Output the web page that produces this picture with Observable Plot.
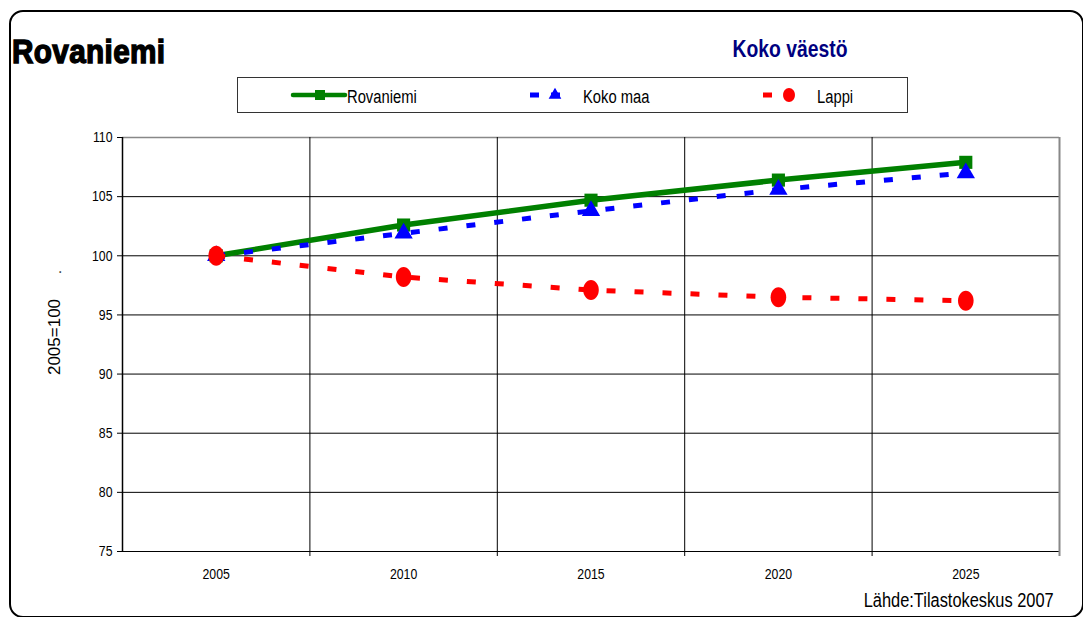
<!DOCTYPE html>
<html>
<head>
<meta charset="utf-8">
<script src="https://cdn.jsdelivr.net/npm/d3@7"></script>
<script src="https://cdn.jsdelivr.net/npm/@observablehq/plot@0.6"></script>
<style>
  html, body { margin: 0; padding: 0; background: #fff; }
  #wrap { position: relative; width: 1083px; height: 617px; overflow: hidden; font-family: "Liberation Sans", Arial, sans-serif; }
  #frame { position: absolute; left: 9px; top: 10px; width: 1071px; height: 604px; border: 2px solid #000; border-radius: 14px; }
  .t { position: absolute; white-space: nowrap; color: #000; }
  #title { left: 12px; top: 35px; font-size: 33px; line-height: 33px; font-weight: bold; -webkit-text-stroke: 1.4px #000; letter-spacing: 0.4px; transform: scaleX(0.9); transform-origin: left center; }
  #subtitle { left: 640px; width: 300px; text-align: center; top: 38px; font-size: 23px; line-height: 23px; font-weight: bold; color: #000080; transform: scaleX(0.84); transform-origin: center center; }
  #legend { position: absolute; left: 237px; top: 77px; width: 669px; height: 34px; border: 1px solid #333; }
  .lt { position: absolute; top: 10px; font-size: 18px; line-height: 18px; transform: scaleX(0.82); transform-origin: left center; white-space: nowrap; }
  #ylabel { left: -5px; top: 327px; width: 120px; height: 20px; line-height: 20px; text-align: center; font-size: 17px; transform: rotate(-90deg); }
  #dot { left: 46px; top: 262px; width: 20px; height: 20px; line-height: 20px; text-align: center; font-size: 14px; transform: rotate(-90deg); }
  #caption { right: 29px; top: 590px; font-size: 20px; line-height: 20px; transform: scaleX(0.82); transform-origin: right center; }
  #plot { position: absolute; left: 0; top: 0; }
</style>
</head>
<body>
<div id="wrap">
  <div id="frame"></div>
  <div id="plot"></div>
  <div class="t" id="title">Rovaniemi</div>
  <div class="t" id="subtitle">Koko väestö</div>
  <div id="legend"></div>
  <div class="t" id="ylabel">2005=100</div>
  <div class="t" id="dot">.</div>
  <div class="t" id="caption">Lähde:Tilastokeskus 2007</div>
</div>
<script>
// ---- data ----
const years = [2005, 2010, 2015, 2020, 2025];
const seriesNames = ["Rovaniemi", "Koko maa", "Lappi"];
const rovaniemi = [100, 102.6, 104.7, 106.4, 107.9];
const kokoMaa = [100, 101.9, 103.8, 105.6, 107.0];
const lappi = [100, 98.2, 97.1, 96.5, 96.2];
const yTicks = [75, 80, 85, 90, 95, 100, 105, 110];

// ---- styles ----
const colors = {"Rovaniemi": "#008000", "Koko maa": "#0000ff", "Lappi": "#ff0000"};
const dashes = {"Rovaniemi": null, "Koko maa": "9,19", "Lappi": "9,19"};

// custom ellipse symbol (taller than wide, like the reference markers)
function ellipseSymbol(ratio) {
  return {
    draw(context, size) {
      const r = Math.sqrt(size / Math.PI);
      const rx = r * ratio, ry = r;
      const k = 0.5523;
      context.moveTo(rx, 0);
      context.bezierCurveTo(rx, ry * k, rx * k, ry, 0, ry);
      context.bezierCurveTo(-rx * k, ry, -rx, ry * k, -rx, 0);
      context.bezierCurveTo(-rx, -ry * k, -rx * k, -ry, 0, -ry);
      context.bezierCurveTo(rx * k, -ry, rx, -ry * k, rx, 0);
      context.closePath();
    }
  };
}
const ellipse = ellipseSymbol(0.78);

const seriesValues = {"Rovaniemi": rovaniemi, "Koko maa": kokoMaa, "Lappi": lappi};
const rows = seriesNames.flatMap(s => years.map((y, i) => ({series: s, year: y, value: seriesValues[s][i]})));
const bySeries = s => rows.filter(d => d.series === s);

const step = years[1] - years[0];
const bounds = [...years.map(y => y - step / 2), years[years.length - 1] + step / 2];

const plot = Plot.plot({
  width: 1083,
  height: 617,
  marginLeft: 122,
  marginRight: 24,
  marginTop: 137,
  marginBottom: 66,
  style: {background: "transparent", fontFamily: "'Liberation Sans',Arial,sans-serif", fontSize: "15px", color: "#000"},
  x: {domain: [bounds[0], bounds[bounds.length - 1]]},
  y: {domain: [75, 110]},
  marks: [
    Plot.ruleY(yTicks.filter(v => v !== 110), {stroke: "#000", strokeWidth: 1}),
    Plot.ruleY([110], {stroke: "#888", strokeWidth: 1.5}),
    Plot.ruleX(bounds.slice(1, -1), {stroke: "#000", strokeWidth: 1, insetBottom: -5}),
    Plot.ruleX([bounds[0]], {stroke: "#000", strokeWidth: 1.5}),
    Plot.ruleX([bounds[bounds.length - 1]], {stroke: "#888", strokeWidth: 2, insetBottom: -5}),
    Plot.axisY({ticks: yTicks, tickSize: 5, tickPadding: 5, label: null, stroke: "#000"}),
    Plot.axisX({ticks: years, tickSize: 0, tickPadding: 17, tickFormat: d => String(d), label: null}),
    ...seriesNames.map(s => Plot.line(bySeries(s), {
      x: "year", y: "value", stroke: colors[s],
      strokeWidth: s === "Rovaniemi" ? 5.5 : 5,
      strokeDasharray: dashes[s], strokeLinecap: "butt", strokeLinejoin: "miter"
    })),
    Plot.dot(bySeries("Rovaniemi"), {x: "year", y: "value", symbol: "square", r: 7.4, fill: colors["Rovaniemi"], stroke: "none"}),
    Plot.dot(bySeries("Koko maa"), {x: "year", y: "value", symbol: "triangle", r: 6.8, fill: colors["Koko maa"], stroke: "none"}),
    Plot.dot(bySeries("Lappi"), {x: "year", y: "value", symbol: ellipse, r: 10, fill: colors["Lappi"], stroke: "none"})
  ]
});
// narrow the tick labels horizontally (the reference uses a condensed face)
plot.querySelectorAll('g[aria-label$="tick label"] text').forEach(t => {
  const tr = t.getAttribute("transform");
  if (tr) t.setAttribute("transform", tr + " scale(0.82,1)");
  else {
    const x = t.getAttribute("x") || 0, y = t.getAttribute("y") || 0;
    t.removeAttribute("x"); t.removeAttribute("y");
    t.setAttribute("transform", `translate(${x},${y}) scale(0.82,1)`);
  }
});
document.getElementById("plot").appendChild(plot);

// ---- legend ----
const legend = document.getElementById("legend");
const legendPos = {
  "Rovaniemi": {x1: 55, x2: 107, m: 82, text: 109},
  "Koko maa": {x1: 292, x2: 329, m: 317, text: 345},
  "Lappi": {x1: 525, x2: 562, m: 551, text: 579}
};
const ns = "http://www.w3.org/2000/svg";
const lsvg = document.createElementNS(ns, "svg");
lsvg.setAttribute("width", 669); lsvg.setAttribute("height", 34);
lsvg.style.position = "absolute"; lsvg.style.left = "0"; lsvg.style.top = "0";
legend.appendChild(lsvg);
seriesNames.forEach(s => {
  const pos = legendPos[s], cy = 17;
  const line = document.createElementNS(ns, "line");
  line.setAttribute("x1", pos.x1); line.setAttribute("x2", pos.x2);
  line.setAttribute("y1", cy); line.setAttribute("y2", cy);
  line.setAttribute("stroke", colors[s]); line.setAttribute("stroke-width", s === "Rovaniemi" ? 4.5 : 5);
  line.setAttribute("stroke-linecap", s === "Rovaniemi" ? "round" : "butt");
  if (dashes[s]) line.setAttribute("stroke-dasharray", "9,12");
  lsvg.appendChild(line);
  const p = document.createElementNS(ns, "path");
  let d;
  if (s === "Lappi") { const g = d3.path(); ellipseSymbol(0.85).draw(g, Math.PI * 49); d = g.toString(); }
  else if (s === "Rovaniemi") d = d3.symbol(d3.symbolSquare, 100)();
  else d = d3.symbol(d3.symbolTriangle, 70)();
  p.setAttribute("d", d);
  p.setAttribute("transform", `translate(${pos.m},${cy})`);
  p.setAttribute("fill", colors[s]);
  lsvg.appendChild(p);
  const t = document.createElement("div");
  t.className = "lt";
  t.textContent = s;
  t.style.left = pos.text + "px";
  legend.appendChild(t);
});
</script>
</body>
</html>
